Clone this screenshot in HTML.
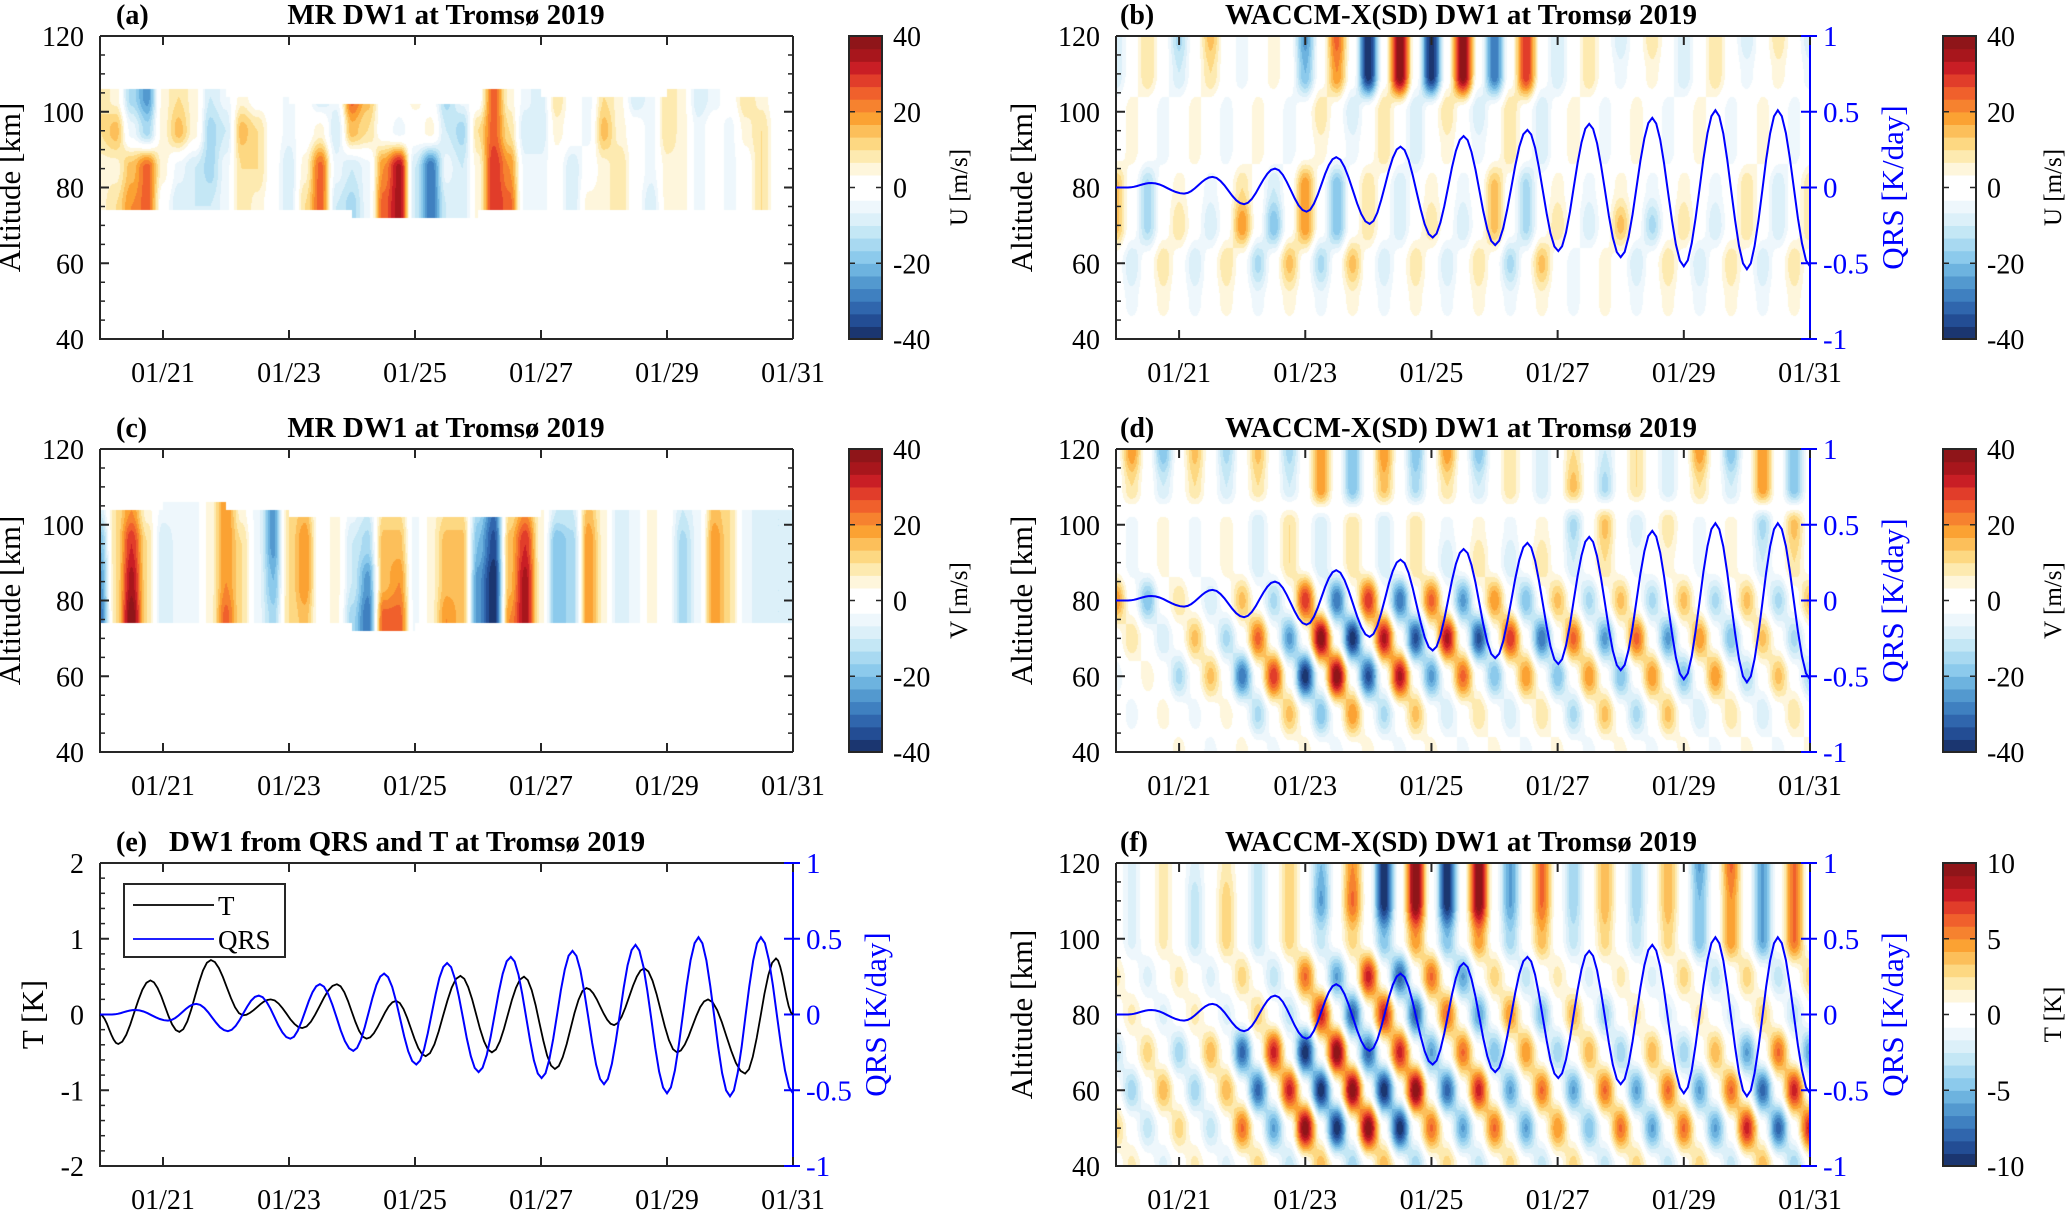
<!DOCTYPE html>
<html><head><meta charset="utf-8">
<style>
body{margin:0;width:2067px;height:1211px;background:#fff;overflow:hidden;position:relative;font-family:"Liberation Serif",serif}
canvas{position:absolute}
#svg{position:absolute;left:0;top:0}
</style></head>
<body>
<div id="heatmaps"></div>
<svg id="svg" width="2067" height="1211" xmlns="http://www.w3.org/2000/svg"></svg>
<script>
// ---------------- data ----------------
const xTickDays = [1,3,5,7,9,11];
const xTickLabels = ['01/21','01/23','01/25','01/27','01/29','01/31'];
const altTicks = [40,60,80,100,120];
const altTickLabels = ['40','60','80','100','120'];
const qrsTicks = [-1,-0.5,0,0.5,1];
const qrsTickLabels = ['-1','-0.5','0','0.5','1'];
const tTicks = [-2,-1,0,1,2];
const tTickLabels = ['-2','-1','0','1','2'];
const windCbarTicks = [-40,-20,0,20,40];
const windCbarLabels = ['-40','-20','0','20','40'];
const tempCbarTicks = [-10,-5,0,5,10];
const tempCbarLabels = ['-10','-5','0','5','10'];

// QRS extrema (day since 01/20, K/day)
const qrsDays = [0,0.19,0.56,1.08,1.53,2.03,2.52,3.02,3.49,4.02,4.51,5.02,5.51,6.01,6.52,7.01,7.5,8.0,8.5,9.0,9.5,10.0,10.49,11.0];
const qrsVals = [0,0,0.03,-0.04,0.07,-0.11,0.125,-0.16,0.2,-0.24,0.27,-0.33,0.34,-0.38,0.38,-0.42,0.42,-0.46,0.46,-0.52,0.51,-0.54,0.51,-0.52];
// T extrema (K)
const tDays = [0,0.29,0.8,1.26,1.76,2.27,2.71,3.21,3.76,4.23,4.7,5.17,5.72,6.22,6.73,7.22,7.72,8.16,8.64,9.16,9.65,10.24,10.73,11.0];
const tVals = [0,-0.39,0.45,-0.23,0.72,-0.01,0.2,-0.18,0.4,-0.32,0.18,-0.55,0.51,-0.5,0.5,-0.72,0.35,-0.14,0.61,-0.5,0.2,-0.78,0.74,0];

// model grids: rows at these altitudes, columns every 0.25 day from 01/20 00UT
const gridAlt = [120,110,100,90,80,70,60,50,40];
const uModel = [
[-10,0,10,0,-15,0,15,0,-5,0,5,0,-25,0,25,0,-40,0,40,0,-40,0,40,0,-30,0,30,0,-10,0,10,0,-10,0,10,0,-10,0,10,0,-10,0,10,0,-10],
[-10,0,10,0,-10,0,10,0,-5,0,5,0,-20,0,20,0,-40,0,40,0,-40,0,40,0,-30,0,30,0,-10,0,10,0,-5,0,5,0,-10,0,10,0,-5,0,5,0,-5],
[0,5,0,-5,0,5,0,-5,0,5,0,-5,0,10,0,-10,0,10,0,-10,0,10,0,-10,0,10,0,-10,0,5,0,-5,0,5,0,-5,0,5,0,-5,0,5,0,-5,0],
[0,5,0,-5,0,5,0,-5,0,5,0,-5,0,5,0,-5,0,10,0,-10,0,5,0,-5,0,10,0,-10,0,5,0,-5,0,5,0,-5,0,5,0,-5,0,5,0,-5,0],
[15,0,-15,0,5,0,-5,0,10,0,-10,0,20,0,-20,0,10,0,-10,0,5,0,-5,0,15,0,-15,0,5,0,-5,0,5,0,-5,0,5,0,-5,0,10,0,-10,0,10],
[15,0,-15,0,10,0,-10,0,20,0,-20,0,20,0,-20,0,10,0,-10,0,10,0,-10,0,15,0,-15,0,10,0,-10,0,15,0,-15,0,10,0,-10,0,10,0,-10,0,10],
[0,-10,0,10,0,-10,0,10,0,-15,0,15,0,-15,0,15,0,-10,0,10,0,-10,0,10,0,-15,0,15,0,-5,0,5,0,-10,0,10,0,-10,0,10,0,-10,0,10,0],
[0,-5,0,5,0,-5,0,5,0,-5,0,5,0,-5,0,5,0,-5,0,5,0,-5,0,5,0,-5,0,5,0,-5,0,5,0,-5,0,5,0,-5,0,5,0,-5,0,5,0],
[0,0,0,0,0,0,0,0,0,0,0,0,0,0,0,0,0,0,0,0,0,0,0,0,0,0,0,0,0,0,0,0,0,0,0,0,0,0,0,0,0,0,0,0,0]
];
const vModel = [
[0,20,0,-20,0,15,0,-15,0,15,0,-15,0,20,0,-20,0,20,0,-20,0,20,0,-20,0,10,0,-10,0,10,0,-10,0,10,0,-10,0,20,0,-20,0,20,0,-20,0],
[0,10,0,-10,0,10,0,-10,0,10,0,-10,0,20,0,-20,0,15,0,-15,0,10,0,-10,0,10,0,-10,0,15,0,-15,0,10,0,-10,0,10,0,-10,0,20,0,-20,0],
[0,-5,0,5,0,-5,0,5,0,-10,0,10,0,-10,0,10,0,-10,0,10,0,-5,0,5,0,-5,0,5,0,-15,0,15,0,-10,0,10,0,-5,0,5,0,-15,0,15,0],
[0,-5,0,5,0,-5,0,5,0,-10,0,10,0,-10,0,10,0,-10,0,10,0,-10,0,10,0,-10,0,10,0,-10,0,10,0,-5,0,5,0,-5,0,5,0,-10,0,10,0],
[20,0,-20,0,10,0,-10,0,15,0,-15,0,30,0,-30,0,30,0,-30,0,25,0,-25,0,20,0,-20,0,15,0,-15,0,15,0,-15,0,15,0,-15,0,15,0,-15,0,15],
[0,10,0,-10,0,15,0,-15,0,25,0,-25,0,40,0,-40,0,35,0,-35,0,35,0,-35,0,30,0,-30,0,25,0,-25,0,25,0,-25,0,20,0,-20,0,15,0,-15,0],
[-5,0,5,0,-15,0,15,0,-30,0,30,0,-40,0,40,0,-35,0,35,0,-25,0,25,0,-20,0,20,0,-20,0,20,0,-20,0,20,0,-20,0,20,0,-15,0,15,0,-15],
[0,-5,0,5,0,-5,0,5,0,-15,0,15,0,-20,0,20,0,-15,0,15,0,-10,0,10,0,-10,0,10,0,-15,0,15,0,-15,0,15,0,-10,0,10,0,-10,0,10,0],
[0,0,0,0,5,0,-5,0,5,0,-5,0,5,0,-5,0,5,0,-5,0,5,0,-5,0,5,0,-5,0,5,0,-5,0,5,0,-5,0,5,0,-5,0,5,0,-5,0,5]
];
const tModel = [
[0,-2,0,2,0,-2,0,2,0,-3,0,3,0,-5,0,5,0,-10,0,10,0,-10,0,10,0,-6,0,6,0,-4,0,4,0,-4,0,4,0,-6,0,6,0,-6,0,6,0],
[0,-2,0,2,0,-3,0,3,0,-3,0,3,0,-6,0,6,0,-10,0,10,0,-10,0,10,0,-6,0,6,0,-4,0,4,0,-4,0,4,0,-5,0,5,0,-6,0,6,0],
[0,-2,0,2,0,-3,0,3,0,-3,0,3,0,-3,0,3,0,-5,0,5,0,-5,0,5,0,-4,0,4,0,-3,0,3,0,-3,0,3,0,-5,0,5,0,-6,0,6,0],
[2,0,-2,0,2,0,-2,0,3,0,-3,0,6,0,-6,0,8,0,-8,0,6,0,-6,0,3,0,-3,0,2,0,-2,0,2,0,-2,0,3,0,-3,0,3,0,-3,0,3],
[0,2,0,-2,0,2,0,-2,0,3,0,-3,0,8,0,-8,0,8,0,-8,0,6,0,-6,0,5,0,-5,0,4,0,-4,0,2,0,-2,0,2,0,-2,0,3,0,-3,0],
[-3,0,3,0,-4,0,4,0,-8,0,8,0,-10,0,10,0,-8,0,8,0,-6,0,6,0,-5,0,5,0,-4,0,4,0,-4,0,4,0,-4,0,4,0,-6,0,6,0,-6],
[0,-4,0,4,0,-4,0,4,0,-8,0,8,0,-10,0,10,0,-10,0,10,0,-8,0,8,0,-6,0,6,0,-6,0,6,0,-6,0,6,0,-6,0,6,0,-8,0,8,0],
[3,0,-3,0,3,0,-3,0,6,0,-6,0,10,0,-10,0,10,0,-10,0,6,0,-6,0,6,0,-6,0,5,0,-5,0,6,0,-6,0,6,0,-6,0,8,0,-8,0,8],
[0,2,0,-2,0,2,0,-2,0,3,0,-3,0,4,0,-4,0,4,0,-4,0,3,0,-3,0,3,0,-3,0,3,0,-3,0,3,0,-3,0,3,0,-3,0,4,0,-4,0]
];

// meteor radar grids (rows at mrAlt), columns every 0.25 day
const mrAlt = [104,95,85,75];
const uMR = [
[10,5,-15,-25,5,10,5,-10,-5,5,0,0,-5,0,-10,-5,25,15,0,0,5,0,-15,-5,0,25,5,-5,-10,10,0,-5,10,5,-10,-5,10,5,-10,-5,0,10,5,0,0],
[10,15,-5,-15,5,15,5,-15,-10,15,10,0,-5,0,5,-10,15,10,0,-5,0,5,-10,-15,10,25,10,-10,-10,5,0,-5,15,5,0,-5,10,5,-5,0,-5,5,10,0,0],
[5,5,15,25,5,-5,-10,-15,-5,10,10,0,-10,5,25,-5,-10,-5,20,35,-10,-30,-5,-10,5,30,20,-5,-5,0,-10,0,5,10,0,-5,5,5,-5,0,-5,0,10,0,0],
[5,10,20,25,0,-10,-10,-10,-5,10,5,0,-10,10,25,-10,-15,-5,25,35,-10,-30,-10,-10,5,30,25,-5,-5,0,-10,5,5,10,0,-10,5,5,-5,0,-5,0,10,0,0]
];
const uMRTop = [106,106,104,102,102,102,106,104,104,106,104];
const uMRBot = [74,74,74,74,72,72,74,74,74,74,74];
const vMR = [
[-10,10,20,5,-5,-5,-5,5,20,5,-5,-25,10,15,0,5,-5,-10,10,10,-5,5,10,10,-15,-30,10,20,5,-10,-10,15,5,-10,-5,5,0,-10,-5,15,10,-5,-10,-10,-10],
[-20,10,30,10,-10,-5,-5,5,20,10,-5,-25,10,20,0,5,-10,-15,15,15,-5,5,15,15,-20,-35,15,30,5,-20,-15,20,5,-10,-5,5,0,-15,-5,20,10,-5,-10,-10,-10],
[-25,10,35,10,-10,-5,-5,5,20,10,-5,-20,10,20,0,5,-10,-25,15,20,-5,5,15,15,-25,-40,15,35,5,-20,-15,20,5,-10,-5,5,0,-15,-5,20,10,-5,-10,-10,-10],
[-30,10,40,10,-10,-5,-5,5,25,10,-5,-15,10,15,0,5,-15,-30,25,25,-5,5,20,15,-25,-40,20,35,5,-20,-15,20,5,-10,-5,5,0,-15,-5,20,10,-5,-10,-10,-10]
];
const vMRTop = [104,106,104,102,102,102,102,104,104,104,104];
const vMRBot = [74,74,74,74,72,74,74,74,74,74,74];

// ---------------- layout ----------------
const NS = 'http://www.w3.org/2000/svg';
const svg = document.getElementById('svg');
const layer = document.getElementById('heatmaps');
const COLS = ['#1b3670','#234d94','#3066ad','#3f80c0','#5399cf','#6db3df','#8ccaec','#a8d9f1','#c4e7f5','#dcf0f9','#eef7fc','#ffffff',
              '#ffffff','#fef6dc','#fdeab0','#fdd882','#fcbf5a','#fba233','#f6822f','#f0602c','#e13d2a','#c91e25','#a8161c','#8f1519'];
const LX = 100, LW = 693, RX = 1116, RW = 694, H = 303;
const ROWY = [36, 449, 863];
const TMAX = 11;

function mk(tag, attrs, parent){
  const e = document.createElementNS(NS, tag);
  for (const k in attrs) e.setAttribute(k, attrs[k]);
  (parent || svg).appendChild(e);
  return e;
}
function hexRGB(h){return [parseInt(h.slice(1,3),16),parseInt(h.slice(3,5),16),parseInt(h.slice(5,7),16)];}
const RGB = COLS.map(hexRGB);
function colorIdx(v, vmax){
  let i = Math.floor((v + vmax) / (2*vmax) * 24);
  return Math.max(0, Math.min(23, i));
}
function sm(f){return (1 - Math.cos(Math.PI*f))/2;}
function sampleCol(row, fc){
  const n = row.length;
  if (fc <= 0) return row[0];
  if (fc >= n-1) return row[n-1];
  const c0 = Math.floor(fc), f = sm(fc - c0);
  return row[c0]*(1-f) + row[c0+1]*f;
}
function makeCanvas(name, x, y, w, h){
  const c = document.createElement('canvas');
  c.width = w; c.height = h;
  c.style.left = x + 'px'; c.style.top = y + 'px';
  
  
  layer.appendChild(c);
  return c;
}
function drawModel(name, x, y, w, h, grid, vmax){
  const c = makeCanvas(name, x, y, w, h);
  const ctx = c.getContext('2d');
  const img = ctx.createImageData(w, h);
  for (let py = 0; py < h; py++){
    const z = 120 - (py + 0.5) / h * 80;
    const fr = (gridAlt[0] - z) / 10;
    const r0 = Math.max(0, Math.min(gridAlt.length-2, Math.floor(fr)));
    const fz = sm(Math.max(0, Math.min(1, fr - r0)));
    for (let px = 0; px < w; px++){
      const t = (px + 0.5) / w * TMAX;
      const fc = t * 4;
      const v = sampleCol(grid[r0], fc)*(1-fz) + sampleCol(grid[r0+1], fc)*fz;
      const rgb = RGB[colorIdx(v, vmax)];
      const k = (py*w + px)*4;
      img.data[k]=rgb[0]; img.data[k+1]=rgb[1]; img.data[k+2]=rgb[2]; img.data[k+3]=255;
    }
  }
  ctx.putImageData(img, 0, 0);
}
function drawMR(name, x, y, w, h, grid, top, bot, vmax){
  const c = makeCanvas(name, x, y, w, h);
  const ctx = c.getContext('2d');
  const img = ctx.createImageData(w, h);
  for (let py = 0; py < h; py++){
    const z = 120 - (py + 0.5) / h * 80;
    let r0, fz;
    if (z >= mrAlt[0]) { r0 = 0; fz = 0; }
    else if (z <= mrAlt[mrAlt.length-1]) { r0 = mrAlt.length-2; fz = 1; }
    else {
      r0 = 0; while (!(z <= mrAlt[r0] && z >= mrAlt[r0+1])) r0++;
      fz = sm((mrAlt[r0] - z) / (mrAlt[r0] - mrAlt[r0+1]));
    }
    for (let px = 0; px < w; px++){
      const t = (px + 0.5) / w * TMAX;
      const d = Math.min(top.length-1, Math.floor(t));
      const k = (py*w + px)*4;
      if (z > top[d] || z < bot[d]) { img.data[k]=255; img.data[k+1]=255; img.data[k+2]=255; img.data[k+3]=255; continue; }
      const v = sampleCol(grid[r0], t*4)*(1-fz) + sampleCol(grid[r0+1], t*4)*fz;
      const rgb = RGB[colorIdx(v, vmax)];
      img.data[k]=rgb[0]; img.data[k+1]=rgb[1]; img.data[k+2]=rgb[2]; img.data[k+3]=255;
    }
  }
  ctx.putImageData(img, 0, 0);
}

function xS(px, pw){ return t => px + t / TMAX * pw; }
function yS(py, min, max){ return v => py + (max - v) / (max - min) * H; }

function txt(s, attrs){
  const t = mk('text', Object.assign({'font-family':'Liberation Serif, serif','font-size':27,fill:'#000'}, attrs));
  t.textContent = s;
  return t;
}

function axes(px, pw, py, leftTicks, leftLabels, lmin, lmax, minorStep, hasQRS, tag){
  const ys = yS(py, lmin, lmax), xs = xS(px, pw);
  const g = mk('g', {});
  
  
  const box = mk('path', {d:`M${px},${py}H${px+pw}M${px},${py}V${py+H}H${px+pw}`, stroke:'#262626', 'stroke-width':2, fill:'none'}, g);
  
  
  const rline = mk('line', {x1:px+pw, y1:py, x2:px+pw, y2:py+H, stroke: hasQRS ? '#0000ff' : '#262626', 'stroke-width':2}, g);
  
  
  xTickDays.forEach((d, i) => {
    const X = xs(d);
    const tk = mk('path', {d:`M${X},${py+H}v-9M${X},${py}v9`, stroke:'#262626','stroke-width':2}, g);
    
    
    const lb = txt(xTickLabels[i], {x:X, y:py+H+43, 'text-anchor':'middle', 'font-size':28});
    
    
  });
  for (let v = lmin; v <= lmax + 1e-9; v += minorStep){
    const Y = ys(v);
    const m = mk('path', {d:`M${px},${Y}h5` + (hasQRS ? '' : `M${px+pw},${Y}h-5`), stroke:'#262626','stroke-width':1.5}, g);
    
    
  }
  leftTicks.forEach((v, i) => {
    const Y = ys(v);
    const tk = mk('path', {d:`M${px},${Y}h9` + (hasQRS ? '' : `M${px+pw},${Y}h-9`), stroke:'#262626','stroke-width':2}, g);
    
    
    const lb = txt(leftLabels[i], {x:px-16, y:Y+10, 'text-anchor':'end', 'font-size':28});
    
    
  });
  if (hasQRS){
    const qs = yS(py, -1, 1);
    qrsTicks.forEach((v, i) => {
      const Y = qs(v);
      const tk = mk('path', {d:`M${px+pw},${Y}h-9M${px+pw},${Y}h7`, stroke:'#0000ff','stroke-width':2}, g);
      
      
      const lb = txt(qrsTickLabels[i], {x:px+pw+13, y:Y+10, fill:'#0000ff', 'font-size':29});
      
      
    });
    const qt = txt('QRS [K/day]', {x:0, y:0, fill:'#0000ff', 'font-size':31, 'text-anchor':'middle', transform:`translate(${px+pw+93},${py+H/2}) rotate(-90)`});
    
    
  }
}

function curvePath(days, vals, xs, ys){
  let d = `M${xs(days[0])},${ys(vals[0])}`;
  for (let i = 0; i < days.length-1; i++){
    for (let s = 1; s <= 8; s++){
      const f = s/8, ff = sm(f);
      const t = days[i] + (days[i+1]-days[i])*f;
      const v = vals[i] + (vals[i+1]-vals[i])*ff;
      d += `L${xs(t).toFixed(1)},${ys(v).toFixed(1)}`;
    }
  }
  return d;
}
function qrsLine(px, pw, py, tag){
  const p = mk('path', {d: curvePath(qrsDays, qrsVals, xS(px, pw), yS(py, -1, 1)), stroke:'#0000ff', 'stroke-width':2, fill:'none'});
  
  
}
function altTitle(x, py, tag){
  const t = txt('Altitude [km]', {x:0, y:0, 'font-size':31, 'text-anchor':'middle', transform:`translate(${x},${py+H/2}) rotate(-90)`});
  
  
}
function colorbar(cx, py, ticks, labels, vmax, label, tag){
  const bh = H / 24;
  for (let i = 0; i < 24; i++){
    const r = mk('rect', {x:cx, y:py + H - (i+1)*bh, width:33, height:bh+0.6, fill:COLS[i]});
    
    
  }
  const b = mk('rect', {x:cx, y:py, width:33, height:H, fill:'none', stroke:'#262626', 'stroke-width':2});
  
  
  const ys = yS(py, -vmax, vmax);
  ticks.forEach((v, i) => {
    const Y = ys(v);
    const tk = mk('path', {d:`M${cx+33},${Y}h-6M${cx},${Y}h6`, stroke:'#262626','stroke-width':1.5});
    
    
    const lb = txt(labels[i], {x:cx+44, y:Y+10, 'font-size':28});
    
    
  });
  const t = txt(label, {x:0, y:0, 'font-size':25, 'text-anchor':'middle', transform:`translate(${cx+118},${py+H/2}) rotate(-90)`});
  
  
}
function title(letter, s, lx, cx, py, tag, anchor){
  const a = txt(letter, {x:lx, y:py-12, 'font-weight':'bold', 'font-size':28});
  
  
  const t = txt(s, {x:cx, y:py-12, 'font-weight':'bold', 'font-size':29, 'text-anchor':anchor || 'middle'});
  
  
}

drawMR('heatmap-a', LX, ROWY[0], LW, H, uMR, uMRTop, uMRBot, 40);
drawModel('heatmap-b', RX, ROWY[0], RW, H, uModel, 40);
drawMR('heatmap-c', LX, ROWY[1], LW, H, vMR, vMRTop, vMRBot, 40);
drawModel('heatmap-d', RX, ROWY[1], RW, H, vModel, 40);
drawModel('heatmap-f', RX, ROWY[2], RW, H, tModel, 10);

axes(LX, LW, ROWY[0], altTicks, altTickLabels, 40, 120, 5, false, 'panel-a');
altTitle(20, ROWY[0], 'panel-a'); colorbar(849, ROWY[0], windCbarTicks, windCbarLabels, 40, 'U [m/s]', 'panel-a');
title('(a)', 'MR DW1 at Tromsø 2019', 116, 446, ROWY[0], 'panel-a');
axes(RX, RW, ROWY[0], altTicks, altTickLabels, 40, 120, 5, true, 'panel-b');
qrsLine(RX, RW, ROWY[0], 'panel-b');
altTitle(1032, ROWY[0], 'panel-b'); colorbar(1943, ROWY[0], windCbarTicks, windCbarLabels, 40, 'U [m/s]', 'panel-b');
title('(b)', 'WACCM-X(SD) DW1 at Tromsø 2019', 1120, 1461, ROWY[0], 'panel-b');
axes(LX, LW, ROWY[1], altTicks, altTickLabels, 40, 120, 5, false, 'panel-c');
altTitle(20, ROWY[1], 'panel-c'); colorbar(849, ROWY[1], windCbarTicks, windCbarLabels, 40, 'V [m/s]', 'panel-c');
title('(c)', 'MR DW1 at Tromsø 2019', 116, 446, ROWY[1], 'panel-c');
axes(RX, RW, ROWY[1], altTicks, altTickLabels, 40, 120, 5, true, 'panel-d');
qrsLine(RX, RW, ROWY[1], 'panel-d');
altTitle(1032, ROWY[1], 'panel-d'); colorbar(1943, ROWY[1], windCbarTicks, windCbarLabels, 40, 'V [m/s]', 'panel-d');
title('(d)', 'WACCM-X(SD) DW1 at Tromsø 2019', 1120, 1461, ROWY[1], 'panel-d');
axes(LX, LW, ROWY[2], tTicks, tTickLabels, -2, 2, 0.2, true, 'panel-e');
{
  const tl = mk('path', {d: curvePath(tDays, tVals, xS(LX, LW), yS(ROWY[2], -2, 2)), stroke:'#000', 'stroke-width':1.8, fill:'none'});
  
  
  qrsLine(LX, LW, ROWY[2], 'panel-e');
  const yt = txt('T [K]', {x:0, y:0, 'font-size':31, 'text-anchor':'middle', transform:`translate(43,${ROWY[2]+H/2}) rotate(-90)`});
  
  
  const lg = mk('g', {});
  
  
  const lb = mk('rect', {x:124, y:884, width:161, height:73, fill:'#fff', stroke:'#262626', 'stroke-width':2}, lg);
  
  
  const l1 = mk('line', {x1:133, y1:905, x2:214, y2:905, stroke:'#000', 'stroke-width':1.8}, lg);
  
  
  const t1 = txt('T', {x:218, y:915, 'font-size':27});
  
  
  const l2 = mk('line', {x1:133, y1:939, x2:214, y2:939, stroke:'#0000ff', 'stroke-width':1.8}, lg);
  
  
  const t2 = txt('QRS', {x:218, y:949, 'font-size':27});
  
  
}
title('(e)', 'DW1 from QRS and T at Tromsø 2019', 116, 169, ROWY[2], 'panel-e', 'start');
axes(RX, RW, ROWY[2], altTicks, altTickLabels, 40, 120, 5, true, 'panel-f');
qrsLine(RX, RW, ROWY[2], 'panel-f');
altTitle(1032, ROWY[2], 'panel-f'); colorbar(1943, ROWY[2], tempCbarTicks, tempCbarLabels, 10, 'T [K]', 'panel-f');
title('(f)', 'WACCM-X(SD) DW1 at Tromsø 2019', 1120, 1461, ROWY[2], 'panel-f');
</script>
</body></html>
